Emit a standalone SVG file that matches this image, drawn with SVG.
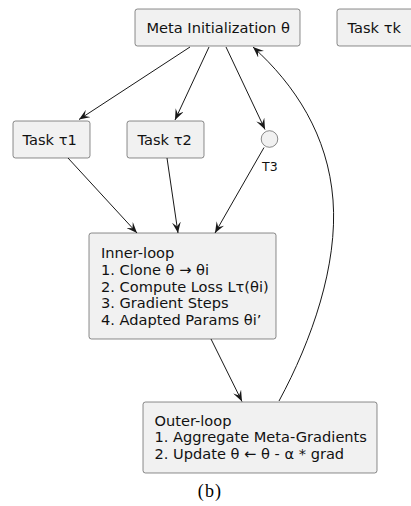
<svg xmlns="http://www.w3.org/2000/svg" width="411" height="506" viewBox="0 0 411 506">
<style>
.box{fill:#F1F1F1;stroke:#181818;stroke-width:0.5}
.t{font-family:"DejaVu Sans",sans-serif;font-size:14.6px;fill:#111}
.e{fill:none;stroke:#181818;stroke-width:1}
</style>
<defs>
<marker id="ah" viewBox="0 0 10 8" markerUnits="userSpaceOnUse" markerWidth="11" markerHeight="9" refX="10" refY="4" orient="auto">
<path d="M0,0 L10,4 L0,8 L4,4 Z" fill="#181818"/>
</marker>
</defs>
<rect width="411" height="506" fill="#fff"/>
<g id="edges">
<path class="e" d="M190,47 L79,119.5" marker-end="url(#ah)"/>
<path class="e" d="M209,47 L175,120" marker-end="url(#ah)"/>
<path class="e" d="M226,47 L265,129.5" marker-end="url(#ah)"/>
<path class="e" d="M68,158 L137,233" marker-end="url(#ah)"/>
<path class="e" d="M167,158 L178,233" marker-end="url(#ah)"/>
<path class="e" d="M264,147.5 L215,233" marker-end="url(#ah)"/>
<path class="e" d="M211,339 L242,401.5" marker-end="url(#ah)"/>
<path class="e" d="M279,401 C312,340 338,265 333,200 C328,135 295,85 253,47" marker-end="url(#ah)"/>
</g>
<g id="meta"><rect class="box" x="135" y="9" width="165" height="37" rx="2.5"/><text class="t" x="146.5" y="33">Meta Initialization θ</text></g>
<g id="taskk"><rect class="box" x="337" y="9" width="77" height="37" rx="2.5"/><text class="t" x="347.5" y="33">Task τk</text></g>
<g id="task1"><rect class="box" x="13" y="121" width="77" height="37" rx="2.5"/><text class="t" x="22.5" y="144.5">Task τ1</text></g>
<g id="task2"><rect class="box" x="127" y="121" width="77" height="37" rx="2.5"/><text class="t" x="137.5" y="144.5">Task τ2</text></g>
<g id="t3"><circle class="box" cx="269.5" cy="139" r="8.3"/><text x="262" y="171" style="font-family:'DejaVu Sans',sans-serif;font-size:12.5px;fill:#111">T3</text></g>
<g id="inner"><rect class="box" x="89" y="233" width="187" height="106" rx="2.5"/>
<text class="t" x="101" y="258">Inner-loop</text>
<text class="t" x="101" y="275">1. Clone θ → θi</text>
<text class="t" x="101" y="291.5">2. Compute Loss Lτ(θi)</text>
<text class="t" x="101" y="308">3. Gradient Steps</text>
<text class="t" x="101" y="325">4. Adapted Params θi’</text>
</g>
<g id="outer"><rect class="box" x="143" y="402" width="234" height="71" rx="2.5"/>
<text class="t" x="154.5" y="425.5">Outer-loop</text>
<text class="t" x="154.5" y="442">1. Aggregate Meta-Gradients</text>
<text class="t" x="154.5" y="459">2. Update θ ← θ - α * grad</text>
</g>
<text x="210" y="496.5" text-anchor="middle" style="font-family:'Liberation Serif',serif;font-size:18px;letter-spacing:1.2px">(b)</text>
</svg>
